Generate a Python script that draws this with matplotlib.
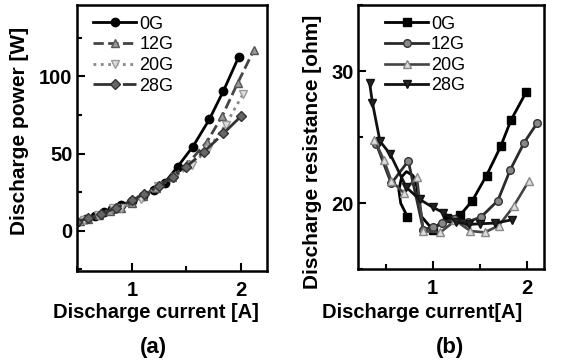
"""
Discharge power / resistance vs current for several magnetic fields
"""
import matplotlib
matplotlib.use('Agg')
import matplotlib.pyplot as plt
from matplotlib.ticker import MultipleLocator

plt.rcParams['font.family'] = ['Liberation Sans', 'DejaVu Sans']

fields = ['0G', '12G', '20G', '28G']

# (a) discharge power [W] vs current [A]
pw_I_0 = [0.5, 0.58, 0.66, 0.74, 0.82, 0.9, 1.0, 1.1, 1.2, 1.3, 1.42, 1.56, 1.71, 1.84, 1.98]
pw_P_0 = [5.5, 7.5, 9.5, 12, 14, 16.5, 19, 22.5, 26.5, 31, 41.5, 54.5, 72, 90.5, 112.5]
pw_I_12 = [0.52, 0.6, 0.7, 0.8, 0.9, 1.0, 1.1, 1.22, 1.37, 1.51, 1.69, 1.83, 1.97, 2.12]
pw_P_12 = [6.1, 7.7, 10.5, 12.8, 14.6, 18.2, 22.4, 28, 34.9, 43.2, 57.7, 74.5, 95.5, 117]
pw_I_20 = [0.5, 0.56, 0.69, 0.83, 0.9, 1.08, 1.24, 1.4, 1.55, 1.7, 1.86, 2.02]
pw_P_20 = [5.8, 6.7, 9.9, 14.8, 14.8, 20.8, 28.8, 35.1, 42.8, 52.9, 68.5, 88.5]
pw_I_28 = [0.5, 0.6, 0.72, 0.85, 1.0, 1.11, 1.25, 1.38, 1.5, 1.66, 1.84, 2.0]
pw_P_28 = [6, 8.1, 11, 14.7, 19.7, 23.8, 29, 35, 41.5, 51, 63, 74]

# (b) discharge resistance [ohm] vs current [A]
rs_I_0 = [0.73, 0.66, 0.64, 0.67, 0.72, 0.79, 0.83, 0.85, 0.88, 1.0, 1.15, 1.29, 1.42, 1.57, 1.72, 1.83, 1.99]
rs_R_0 = [19.0, 20.0, 21.0, 22.0, 22.4, 22.1, 21.3, 20.2, 19.0, 18.0, 18.9, 19.1, 20.2, 22.1, 24.3, 26.3, 28.4]
rs_mark_0 = [0, 9, 10, 11, 12, 13, 14, 15, 16]
rs_I_12 = [0.4, 0.56, 0.74, 0.9, 1.0, 1.1, 1.22, 1.37, 1.51, 1.69, 1.82, 1.97, 2.11]
rs_R_12 = [24.5, 21.5, 23.2, 18.0, 18.2, 18.5, 18.8, 18.6, 18.95, 20.2, 22.5, 24.6, 26.1]
rs_I_20 = [0.38, 0.48, 0.56, 0.69, 0.83, 0.9, 1.08, 1.24, 1.4, 1.55, 1.7, 1.86, 2.02]
rs_R_20 = [24.8, 23.3, 21.7, 20.8, 22.0, 17.9, 17.8, 18.7, 17.9, 17.8, 18.3, 19.8, 21.7]
rs_I_28 = [0.33, 0.36, 0.44, 0.55, 0.72, 0.86, 1.0, 1.11, 1.25, 1.38, 1.5, 1.66, 1.84]
rs_R_28 = [29.1, 27.6, 24.7, 23.7, 21.2, 20.3, 19.7, 19.3, 18.6, 18.4, 18.45, 18.5, 18.75]

LABEL = dict(fontsize=14.5, fontweight='bold')


def style_axes(ax):
  for s in ax.spines.values():
    s.set_linewidth(1.8)
  ax.tick_params(which='both', direction='in', width=1.5, labelsize=14.5)
  ax.tick_params(which='major', length=6)
  ax.tick_params(which='minor', length=3.5)
  ax.tick_params(axis='x', pad=7)
  for lbl in ax.get_xticklabels() + ax.get_yticklabels():
    lbl.set_fontweight('bold')


def add_legend(ax, x0):
  ax.legend(loc='upper left', frameon=False, fontsize=13, handlelength=2.4,
            handletextpad=0.15, labelspacing=0.2, borderpad=0, borderaxespad=0,
            bbox_to_anchor=(x0, 0.96))


fig = plt.figure(figsize=(5.61, 3.64), dpi=100)
ax_a = fig.add_axes([0.138, 0.2555, 0.338, 0.7305])
ax_b = fig.add_axes([0.6387, 0.26, 0.331, 0.726])

# panel (a)
ax_a.plot(pw_I_0, pw_P_0, '-', color='black', lw=2, marker='o', ms=6, label=fields[0])
ax_a.plot(pw_I_12, pw_P_12, '--', color='#444444', lw=2, marker='^', ms=6,
          mfc='#999999', mec='#555555', label=fields[1])
ax_a.plot(pw_I_20, pw_P_20, ':', color='#888888', lw=2, marker='v', ms=6,
          mfc='#dddddd', mec='#999999', label=fields[2])
ax_a.plot(pw_I_28, pw_P_28, '-.', color='#333333', lw=2, marker='D', ms=5.5,
          mfc='#666666', mec='#333333', label=fields[3])
ax_a.set_xlim(0.5, 2.24)
ax_a.set_ylim(-26, 146)
ax_a.xaxis.set_major_locator(MultipleLocator(1))
ax_a.xaxis.set_minor_locator(MultipleLocator(0.5))
ax_a.yaxis.set_major_locator(MultipleLocator(50))
ax_a.yaxis.set_minor_locator(MultipleLocator(25))
style_axes(ax_a)
add_legend(ax_a, 0.083)

# panel (b)
ax_b.plot(rs_I_0, rs_R_0, '-', color='black', lw=2, marker='s', ms=6,
          markevery=rs_mark_0, label=fields[0])
ax_b.plot(rs_I_12, rs_R_12, '-', color='#2a2a2a', lw=2, marker='o', ms=5.5,
          mfc='#888888', mec='#333333', label=fields[1])
ax_b.plot(rs_I_20, rs_R_20, '-', color='#444444', lw=1.9, marker='^', ms=5.5,
          mfc='#dddddd', mec='#888888', label=fields[2])
ax_b.plot(rs_I_28, rs_R_28, '-', color='#111111', lw=2, marker='v', ms=6,
          mfc='#222222', mec='#111111', label=fields[3])
ax_b.set_xlim(0.21, 2.18)
ax_b.set_ylim(15, 35)
ax_b.xaxis.set_major_locator(MultipleLocator(1))
ax_b.xaxis.set_minor_locator(MultipleLocator(0.5))
ax_b.yaxis.set_major_locator(MultipleLocator(10))
ax_b.yaxis.set_minor_locator(MultipleLocator(5))
style_axes(ax_b)
add_legend(ax_b, 0.144)

# axis titles and panel labels
fig.text(20 / 561, 1 - 131 / 364, 'Discharge power [W]', rotation=90,
         ha='center', va='center', fontsize=15, fontweight='bold')
fig.text(313 / 561, 1 - 152 / 364, 'Discharge resistance [ohm]', rotation=90,
         ha='center', va='center', fontsize=15, fontweight='bold')
fig.text(156 / 561, 1 - 313 / 364, 'Discharge current [A]', ha='center', va='center', **LABEL)
fig.text(422 / 561, 1 - 313 / 364, 'Discharge current[A]', ha='center', va='center', **LABEL)
fig.text(153 / 561, 1 - 347 / 364, '(a)', ha='center', va='center', fontsize=16, fontweight='bold')
fig.text(450 / 561, 1 - 347 / 364, '(b)', ha='center', va='center', fontsize=16, fontweight='bold')

fig.savefig('out.png', dpi=100)
plt.close(fig)
